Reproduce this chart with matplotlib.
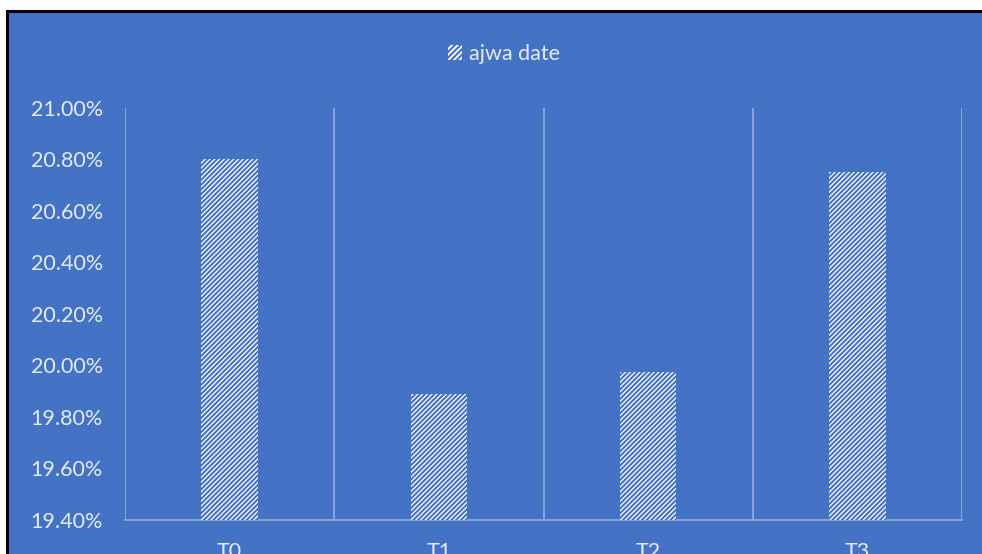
import matplotlib
matplotlib.use("Agg")
import matplotlib.pyplot as plt
import numpy as np
from matplotlib.patches import Rectangle, Patch

categories = ["T0", "T1", "T2", "T3"]
values = [20.80, 19.89, 19.975, 20.75]
series_name = "ajwa date"
yticks = [19.40, 19.60, 19.80, 20.00, 20.20, 20.40, 20.60, 20.80, 21.00]

BLUE = "#4472C4"
TXT = "#E6EBF5"
GRID = "#8EA8DA"

plt.rcParams['font.family'] = ['Lato', 'DejaVu Sans']
plt.rcParams['hatch.linewidth'] = 1.5

W, H = 982, 554
fig = plt.figure(figsize=(W/100, H/100), dpi=100)
fig.patch.set_facecolor("white")

# chart background with black border (top/left visible)
fig.patches.append(Rectangle((7/W, -0.1), 1.1, (H-11)/H + 0.1, transform=fig.transFigure,
                             facecolor=BLUE, edgecolor="black", linewidth=2.2, zorder=-5))

ax = fig.add_axes([125/W, (H-520)/H, (962-125)/W, (520-108)/H])
ax.set_zorder(2)
ax.set_facecolor(BLUE)
ax.patch.set_alpha(0)

x = np.arange(len(categories))
ax.bar(x, values, width=0.27, bottom=0, color="white", edgecolor=BLUE,
       hatch="///////", linewidth=0, zorder=3, label=series_name)

ax.set_ylim(19.40, 21.00)
ax.set_yticks(yticks)
ax.set_yticklabels([f"{v:.2f}%" for v in yticks], color=TXT, fontsize=15.5)
ax.set_xlim(-0.5, 3.5)
ax.set_xticks(x)
ax.set_xticklabels(categories, color=TXT, fontsize=15.5)
ax.set_xticks(np.arange(-0.5, 4, 1), minor=True)
ax.tick_params(axis="x", which="both", length=0, pad=16)
ax.tick_params(axis="y", length=0, pad=16)
ax.grid(False)
ax.grid(True, axis="x", which="minor", color=GRID, linewidth=1.3, zorder=1)
for s in ["top", "left", "right"]:
    ax.spines[s].set_visible(False)
ax.spines["bottom"].set_color(GRID)
ax.spines["bottom"].set_linewidth(1.3)

handle = Patch(facecolor="white", edgecolor=BLUE, hatch="//////", linewidth=0)
leg = fig.legend([handle], [series_name], loc="center", bbox_to_anchor=(504/W, 1 - 54/H),
                 frameon=False, fontsize=15.5, handlelength=0.65, handleheight=0.65,
                 handletextpad=0.3, labelcolor=TXT)
leg.set_zorder(3)

fig.savefig("out.png", dpi=100, facecolor=fig.get_facecolor())
